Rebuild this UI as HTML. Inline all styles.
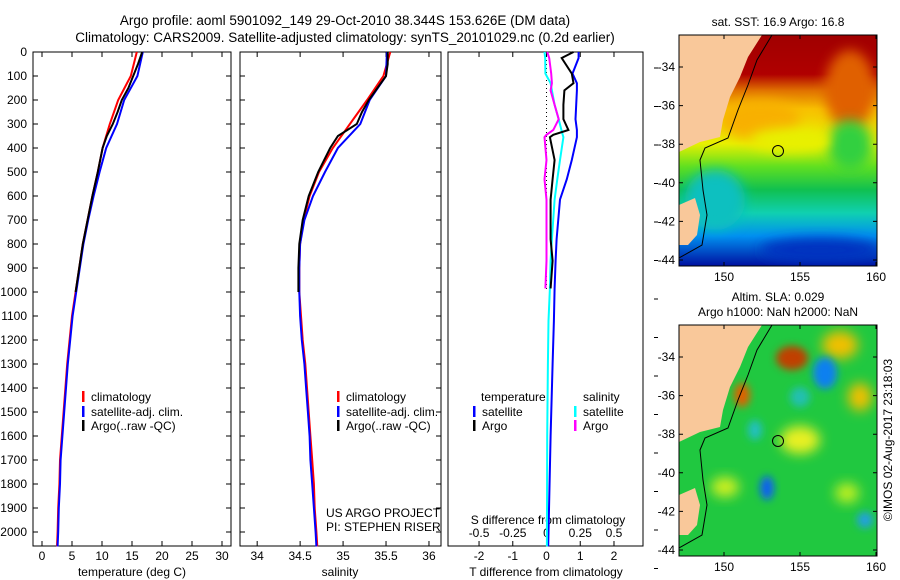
<!DOCTYPE html>
<html><head><meta charset="utf-8"><style>
body{margin:0;background:#fff;}
svg{display:block;font-family:"Liberation Sans",sans-serif;}
</style></head><body>
<svg id="c" width="900" height="580" viewBox="0 0 900 580" xmlns="http://www.w3.org/2000/svg">
<defs>
<filter id="bl" x="-50%" y="-50%" width="200%" height="200%"><feGaussianBlur stdDeviation="6"/></filter>
<filter id="bl2" x="-50%" y="-50%" width="200%" height="200%"><feGaussianBlur stdDeviation="4"/></filter>
<linearGradient id="sst" x1="0" y1="0" x2="0" y2="1">
<stop offset="0" stop-color="#a00000"/><stop offset="0.17" stop-color="#b00000"/>
<stop offset="0.24" stop-color="#e07000"/><stop offset="0.32" stop-color="#f8c000"/>
<stop offset="0.47" stop-color="#e8f000"/><stop offset="0.57" stop-color="#60e020"/>
<stop offset="0.67" stop-color="#10c050"/><stop offset="0.77" stop-color="#10d0b0"/>
<stop offset="0.87" stop-color="#0090f0"/><stop offset="1" stop-color="#0010a0"/>
</linearGradient>
<clipPath id="m1"><rect x="679" y="35" width="198" height="231"/></clipPath>
<clipPath id="m2"><rect x="679" y="325" width="198" height="231"/></clipPath>
</defs>
<text x="345" y="25" font-size="13.5" text-anchor="middle">Argo profile: aoml 5901092_149 29-Oct-2010 38.344S 153.626E (DM data)</text>
<text x="345" y="42" font-size="13.5" text-anchor="middle">Climatology: CARS2009. Satellite-adjusted climatology: synTS_20101029.nc (0.2d earlier)</text>
<g id="plots"></g>
<g clip-path="url(#m1)">
<rect x="679" y="35" width="198" height="231" fill="url(#sst)"/>
<ellipse cx="760" cy="120" rx="40" ry="20" fill="#f8b000" filter="url(#bl)"/>
<ellipse cx="850" cy="90" rx="25" ry="40" fill="#e06000" filter="url(#bl)"/>
<ellipse cx="850" cy="145" rx="22" ry="25" fill="#30d040" filter="url(#bl)"/>
<ellipse cx="790" cy="140" rx="40" ry="12" fill="#e8f000" filter="url(#bl)"/>
<ellipse cx="715" cy="200" rx="30" ry="30" fill="#10c0c0" filter="url(#bl)"/>
<ellipse cx="820" cy="250" rx="60" ry="12" fill="#0030c0" filter="url(#bl)"/>
<polygon points="679,35 762,35 748,57 740,77 730,97 723,120 720,137 700,142 679,152" fill="#f9c89a"/>
<polygon points="679,205 695,198 700,215 697,235 688,245 679,245" fill="#f9c89a"/>
<polyline points="772,35 757,60 748,85 738,110 728,138 705,148 700,160 703,190 707,215 702,245 679,258" fill="none" stroke="#000" stroke-width="1"/>
<circle cx="778" cy="151" r="5.5" fill="none" stroke="#000"/>
</g>
<rect x="679" y="35" width="198" height="231" fill="none" stroke="#000"/>
<text x="778" y="26" font-size="12" text-anchor="middle">sat. SST: 16.9 Argo: 16.8</text>
<g clip-path="url(#m2)">
<rect x="679" y="325" width="198" height="231" fill="#20c840"/>
<ellipse cx="792" cy="358" rx="16" ry="12" fill="#c04000" filter="url(#bl2)"/>
<ellipse cx="840" cy="345" rx="18" ry="14" fill="#f0c000" filter="url(#bl)"/>
<ellipse cx="825" cy="373" rx="12" ry="16" fill="#1080f0" filter="url(#bl2)"/>
<ellipse cx="742" cy="395" rx="8" ry="12" fill="#e06000" filter="url(#bl2)"/>
<ellipse cx="860" cy="397" rx="12" ry="14" fill="#f0c000" filter="url(#bl)"/>
<ellipse cx="800" cy="440" rx="20" ry="14" fill="#e8f020" filter="url(#bl)"/>
<ellipse cx="767" cy="488" rx="7" ry="12" fill="#1060f0" filter="url(#bl2)"/>
<ellipse cx="725" cy="487" rx="14" ry="10" fill="#d0f020" filter="url(#bl)"/>
<ellipse cx="755" cy="430" rx="7" ry="10" fill="#20c0c0" filter="url(#bl2)"/>
<ellipse cx="800" cy="397" rx="10" ry="10" fill="#20c0b0" filter="url(#bl2)"/>
<ellipse cx="865" cy="520" rx="8" ry="8" fill="#20a0e0" filter="url(#bl2)"/>
<ellipse cx="847" cy="493" rx="12" ry="10" fill="#c0f020" filter="url(#bl)"/>
<polygon points="679,325 762,325 748,347 740,367 730,387 723,410 720,427 700,432 679,442" fill="#f9c89a"/>
<polygon points="679,495 695,488 700,505 697,525 688,535 679,535" fill="#f9c89a"/>
<polyline points="772,325 757,350 748,375 738,400 728,428 705,438 700,450 703,480 707,505 702,535 679,548" fill="none" stroke="#000" stroke-width="1"/>
<circle cx="778" cy="441" r="5.5" fill="none" stroke="#000"/>
</g>
<rect x="679" y="325" width="198" height="231" fill="none" stroke="#000"/>
<text x="778" y="301" font-size="12" text-anchor="middle">Altim. SLA: 0.029</text>
<text x="778" y="316" font-size="12" text-anchor="middle">Argo h1000: NaN h2000: NaN</text>
<text x="892" y="440" font-size="12" text-anchor="middle" transform="rotate(-90 892 440)">©IMOS 02-Aug-2017 23:18:03</text>
<g id="maps"></g>
</svg>
<script>
const depth = [0,100,200,300,400,500,600,700,800,900,1000,1100,1200,1300,1400,1500,1600,1700,1800,1900,2000,2060];
const tempClim = [15.8,14.8,12.7,11.3,10.1,9.3,8.4,7.6,6.8,6.2,5.6,5.0,4.6,4.2,3.9,3.6,3.3,3.0,2.9,2.7,2.6,2.5];
const tempSat  = [16.8,15.9,13.7,12.5,10.7,9.6,8.6,7.7,6.9,6.3,5.7,5.1,4.7,4.3,4.0,3.7,3.4,3.1,3.0,2.8,2.7,2.6];
const argoDepth = [0,50,100,150,200,250,300,350,400,450,500,600,700,800,900,1000];
const tempArgo = [16.7,16.0,15.2,14.4,13.3,12.6,11.8,10.8,10.1,9.7,9.3,8.4,7.6,6.8,6.2,5.6];
const salClim = [35.55,35.47,35.28,35.08,34.88,34.72,34.61,34.54,34.50,34.49,34.49,34.51,34.53,34.56,34.58,34.60,34.62,34.64,34.66,34.67,34.69,34.70];
const salSat  = [35.51,35.50,35.31,35.20,34.94,34.79,34.65,34.55,34.50,34.49,34.49,34.50,34.52,34.55,34.57,34.59,34.61,34.62,34.64,34.66,34.68,34.69];
const salArgo = [35.52,35.52,35.50,35.40,35.30,35.22,35.16,34.94,34.85,34.78,34.71,34.60,34.53,34.49,34.48,34.48];
const diffDepth = [0,25,90,130,160,220,280,325,345,355,450,530,615,780,870,985,1120,1300,1600,2060];
const tDiffSat  = [0.95,0.95,0.77,0.9,0.9,0.88,0.86,0.9,0.9,0.9,0.75,0.6,0.4,0.3,0.27,0.24,0.22,0.18,0.12,0.05];
const tDiffArgo = [0.8,0.45,0.75,0.8,0.53,0.5,0.5,0.65,0.2,0.1,0.24,0.18,0.12,0.12,0.18,0.12];
const sDiffSat  = [-0.015,-0.01,-0.008,0.03,0.04,0.06,0.09,0.11,0.12,0.125,0.1,0.08,0.06,0.04,0.03,0.025,0.015,0.01,0.005,0.003];
const sDiffArgo = [0.005,0.02,0.035,0.04,0.03,0.06,0.09,0.05,0.0,-0.015,0.0,-0.015,0.0,0.0,0.0,-0.008];
const depthTicks = [0,100,200,300,400,500,600,700,800,900,1000,1100,1200,1300,1400,1500,1600,1700,1800,1900,2000];
const tempTicks = [0,5,10,15,20,25,30];
const salTicks = [34,34.5,35,35.5,36];
const tdTicks = [-2,-1,0,1,2];
const sdTicks = [-0.5,-0.25,0,0.25,0.5];
const sdLabels = ["-0.5","-0.25","0","0.25","0.5"];

const NS='http://www.w3.org/2000/svg';
const G=document.getElementById('plots');
function el(t,a,p){const e=document.createElementNS(NS,t);for(const k in a)e.setAttribute(k,a[k]);(p||G).appendChild(e);return e;}
const yD = d => 52 + d*0.24;
const yTop=52,yBot=546;
const panels=[
 {x0:33,x1:231,v0:-1.5,v1:31.5,name:'temperature-panel'},
 {x0:240,x1:441,v0:33.8,v1:36.14,name:'salinity-panel'},
 {x0:448,x1:643,v0:-2.92,v1:2.86,name:'difference-panel'}];
const sx=(p,v)=>p.x0+(v-p.v0)/(p.v1-p.v0)*(p.x1-p.x0);
const sdx=v=>sx(panels[2],v*4);

panels.forEach((p,i)=>{
 const r=el('rect',{x:p.x0,y:yTop,width:p.x1-p.x0,height:yBot-yTop,fill:'none',stroke:'#000'});
 
 
 if(i<2) depthTicks.forEach(d=>{
  const t=el('path',{d:`M${p.x0},${yD(d)}h5M${p.x1},${yD(d)}h-5`,stroke:'#000'});
  
  
 });
});
depthTicks.forEach(d=>{
 const t=el('text',{x:27,y:yD(d)+4,'font-size':12,'text-anchor':'end'});
 t.textContent=d;
 
 
});
function xt(p,ticks,ty){
 ticks.forEach(v=>{
  const x=sx(p,v);
  const tk=el('path',{d:`M${x},${yBot}v-5M${x},${yTop}v5`,stroke:'#000'});
  
  
  const t=el('text',{x:x,y:ty,'font-size':12,'text-anchor':'middle'});
  t.textContent=v;
  
  
 });
}
xt(panels[0],tempTicks,560);
xt(panels[1],salTicks,560);
xt(panels[2],tdTicks,560);
sdTicks.forEach((v,k)=>{
 const t=el('text',{x:sdx(v),y:537,'font-size':12,'text-anchor':'middle'});
 t.textContent=sdLabels[k];
 
 
});
for(let k=0;k<14;k++){
 const t=el('path',{d:`M654,${68+k*38.5}h4`,stroke:'#000'});
 
 
}
function lab(x,y,s,n,anchor){const t=el('text',{x:x,y:y,'font-size':12,'text-anchor':anchor||'middle'});t.textContent=s;return t;}
lab(132,576,'temperature (deg C)','temperature-axis-title');
lab(340,576,'salinity','salinity-axis-title');
lab(546,576,'T difference from climatology','t-diff-axis-title');
lab(548,524,'S difference from climatology','s-diff-axis-title');
lab(326,517,'US ARGO PROJECT','project-label','start');
lab(326,531,'PI: STEPHEN RISER','pi-label','start');
const z=el('line',{x1:sx(panels[2],0),x2:sx(panels[2],0),y1:yD(0),y2:yD(1000),stroke:'#000','stroke-dasharray':'1,3'});



function line(fx,vals,deps,col,w,n){
 const pts=vals.map((v,k)=>fx(v).toFixed(1)+','+yD(deps[k]).toFixed(1)).join(' ');
 const l=el('polyline',{points:pts,fill:'none',stroke:col,'stroke-width':w});
 
 
}
const P0=panels[0],P1=panels[1],P2=panels[2];
line(v=>sx(P0,v),tempClim,depth,'#f00',2,'temp-climatology-line');
line(v=>sx(P0,v),tempSat,depth,'#00f',2,'temp-satellite-line');
line(v=>sx(P0,v),tempArgo,argoDepth,'#000',2,'temp-argo-line');
line(v=>sx(P1,v),salClim,depth,'#f00',2,'sal-climatology-line');
line(v=>sx(P1,v),salSat,depth,'#00f',2,'sal-satellite-line');
line(v=>sx(P1,v),salArgo,argoDepth,'#000',2,'sal-argo-line');
line(v=>sx(P2,v),tDiffSat,diffDepth,'#00f',2,'t-diff-satellite-line');
line(v=>sdx(v),sDiffSat,diffDepth,'#0ff',2,'s-diff-satellite-line');
line(v=>sdx(v),sDiffArgo,diffDepth,'#f0f',2,'s-diff-argo-line');
line(v=>sx(P2,v),tDiffArgo,diffDepth,'#000',2,'t-diff-argo-line');

function leg(x,y,col,s,n){
 const m=el('rect',{x:x-1,y:y-6,width:2.5,height:11,fill:col});
 
 
 lab(x+8,y+4,s,n,'start');
}
[83,338].forEach((x,i)=>{
 const pre=i?'sal':'temp';
 leg(x,397,'#f00','climatology',pre+'-legend-climatology');
 leg(x,412,'#00f','satellite-adj. clim.',pre+'-legend-satellite');
 leg(x,426,'#000','Argo(..raw -QC)',pre+'-legend-argo');
});
lab(481,401,'temperature','diff-legend-temperature-header','start');
lab(583,401,'salinity','diff-legend-salinity-header','start');
leg(474,412,'#00f','satellite','diff-legend-t-satellite');
leg(474,426,'#000','Argo','diff-legend-t-argo');
leg(575,412,'#0ff','satellite','diff-legend-s-satellite');
leg(575,426,'#f0f','Argo','diff-legend-s-argo');

const M=document.getElementById('maps');
const lonX=l=>724+(l-150)*15.2;
[[35,266],[325,556]].forEach(([t,b])=>{
 [150,155,160].forEach(l=>{
  const x=lonX(l);
  const tk=el('path',{d:`M${x},${b}v-4M${x},${t}v4`,stroke:'#000'},M);
  
  
  const tx=el('text',{x:x,y:b+15,'font-size':12,'text-anchor':'middle'},M);
  tx.textContent=l;
  
  
 });
 [-34,-36,-38,-40,-42,-44].forEach(la=>{
  const y=t+32+(-34-la)*19.3;
  const tk=el('path',{d:`M679,${y}h4M877,${y}h-4`,stroke:'#000'},M);
  
  
  const tx=el('text',{x:675,y:y+4,'font-size':12,'text-anchor':'end'},M);
  tx.textContent=la;
  
  
 });
});
</script>
</body></html>
